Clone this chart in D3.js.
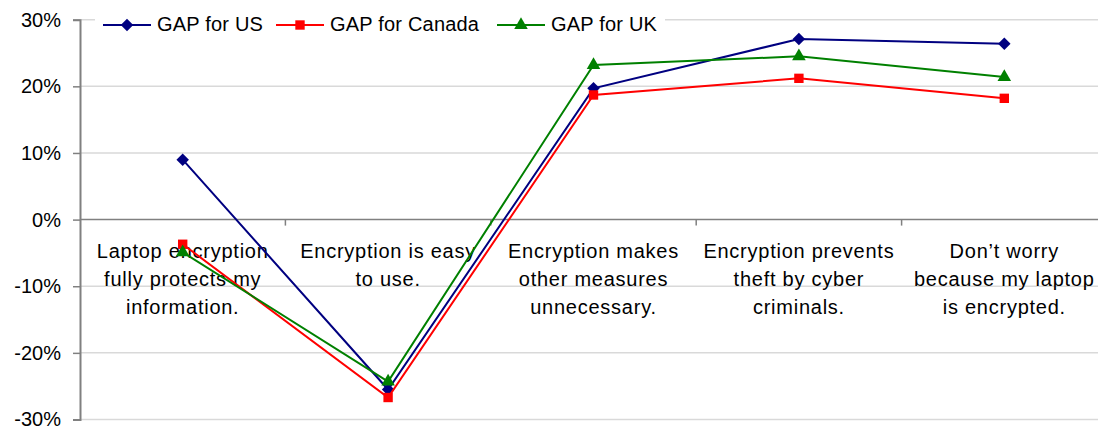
<!DOCTYPE html>
<html>
<head>
<meta charset="utf-8">
<script src="https://cdn.jsdelivr.net/npm/d3@7"></script>
<style>
  html, body { margin: 0; padding: 0; background: #fff; overflow: hidden; }
  svg { display: block; font-family: "Liberation Sans", Arial, sans-serif; }
</style>
</head>
<body>
<svg id="chart" width="1098" height="429"></svg>
<script>
// Survey statements (multi-line axis labels)
const categories = [
  ["Laptop encryption", "fully protects my", "information."],
  ["Encryption is easy", "to use."],
  ["Encryption makes", "other measures", "unnecessary."],
  ["Encryption prevents", "theft by cyber", "criminals."],
  ["Don\u2019t worry", "because my laptop", "is encrypted."]
];
const seriesNames = ["GAP for US", "GAP for Canada", "GAP for UK"];
const gapUS     = [0.090, -0.255, 0.197, 0.271, 0.264];
const gapCanada = [-0.037, -0.267, 0.187, 0.212, 0.182];
const gapUK     = [-0.049, -0.243, 0.232, 0.245, 0.214];
const yTicks = [0.3, 0.2, 0.1, 0, -0.1, -0.2, -0.3];

const colors = ["#000080", "#ff0000", "#008000"];
// diamond = square turned 45 degrees
const markerTypes = [d3.symbolSquare, d3.symbolSquare, d3.symbolTriangle];
const markerSizes = [78, 88, 80];
const markerRotate = [45, 0, 0];

const svg = d3.select("#chart");
const W = 1098;
const plotLeft = 80, plotRight = 1107, plotTop = 19.7, plotBottom = 419.5;

const keys = categories.map((c, i) => "c" + i);
const x = d3.scaleBand().domain(keys).range([plotLeft, plotRight]).padding(0);
const y = d3.scaleLinear().domain([-0.3, 0.3]).range([plotBottom, plotTop]);
const cx = k => x(k) + x.bandwidth() / 2;
const pct = d => (d < 0 ? "-" : "") + Math.round(Math.abs(d) * 100) + "%";

// Horizontal gridlines
svg.append("g").selectAll("line")
  .data(yTicks.filter(t => t !== 0))
  .join("line")
  .attr("x1", plotLeft).attr("x2", W)
  .attr("y1", d => y(d)).attr("y2", d => y(d))
  .attr("stroke", "#d9d9d9").attr("stroke-width", 1.5);

// Value axis
const yAxis = d3.axisLeft(y).tickValues(yTicks).tickSize(7).tickPadding(12)
  .tickFormat(pct);
const gy = svg.append("g").attr("transform", `translate(${plotLeft},0)`).call(yAxis);
gy.select(".domain").attr("stroke", "#808080").attr("stroke-width", 2);
gy.selectAll(".tick line").attr("stroke", "#808080").attr("stroke-width", 1.5);
gy.selectAll(".tick text").attr("font-size", 20).attr("fill", "#000")
  .attr("font-family", "Liberation Sans, Arial, sans-serif");

// Category axis along zero line, with tick marks between categories
const gx = svg.append("g");
gx.append("line")
  .attr("x1", plotLeft).attr("x2", W)
  .attr("y1", y(0)).attr("y2", y(0))
  .attr("stroke", "#808080").attr("stroke-width", 1.5);
gx.selectAll("line.tk")
  .data(keys.slice(1))
  .join("line").attr("class", "tk")
  .attr("x1", d => x(d)).attr("x2", d => x(d))
  .attr("y1", y(0)).attr("y2", y(0) + 6)
  .attr("stroke", "#808080").attr("stroke-width", 1.5);

// Category labels
const lab = gx.selectAll("text.cat")
  .data(categories)
  .join("text").attr("class", "cat")
  .attr("text-anchor", "middle")
  .attr("font-size", 20)
  .attr("letter-spacing", 0.75)
  .attr("fill", "#000");
lab.each(function (lines, i) {
  d3.select(this).selectAll("tspan")
    .data(lines)
    .join("tspan")
    .attr("x", cx(keys[i]))
    .attr("y", (d, j) => 258 + j * 28)
    .text(d => d);
});

// Series lines and markers
const allSeries = [gapUS, gapCanada, gapUK];
const line = d3.line().x((d, i) => cx(keys[i])).y(d => y(d));

allSeries.forEach((vals, s) => {
  const g = svg.append("g");
  g.append("path")
    .datum(vals)
    .attr("d", line)
    .attr("fill", "none")
    .attr("stroke", colors[s])
    .attr("stroke-width", 2);
  g.selectAll("path.m")
    .data(vals)
    .join("path").attr("class", "m")
    .attr("d", d3.symbol().type(markerTypes[s]).size(markerSizes[s]))
    .attr("transform", (d, i) => `translate(${cx(keys[i])},${y(d)}) rotate(${markerRotate[s]})`)
    .attr("fill", colors[s]);
});

// Legend
const legend = svg.append("g");
legend.append("rect")
  .attr("x", 95).attr("y", 6).attr("width", 570).attr("height", 34)
  .attr("fill", "#fff");
const legendX = [103, 276, 497];
seriesNames.forEach((name, s) => {
  const lg = legend.append("g").attr("transform", `translate(${legendX[s]},25)`);
  lg.append("line").attr("x1", 0).attr("x2", 48).attr("y1", 0).attr("y2", 0)
    .attr("stroke", colors[s]).attr("stroke-width", 2);
  lg.append("path")
    .attr("d", d3.symbol().type(markerTypes[s]).size(markerSizes[s]))
    .attr("transform", `translate(24,0) rotate(${markerRotate[s]})`)
    .attr("fill", colors[s]);
  lg.append("text").attr("x", 54).attr("y", 6)
    .attr("font-size", 20).attr("letter-spacing", 0.2)
    .attr("fill", "#000").text(name);
});
</script>
</body>
</html>
